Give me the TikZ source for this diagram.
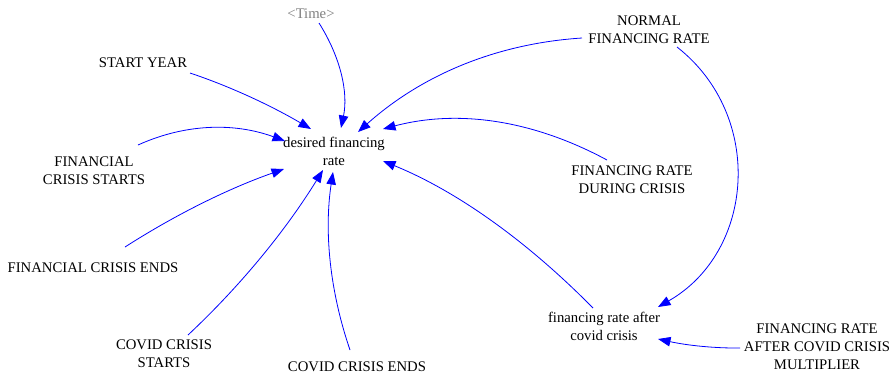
\documentclass[tikz,border=0pt]{standalone}
\usepackage{fontspec}
\setmainfont{Liberation Serif}
\usetikzlibrary{arrows.meta}
\begin{document}
\begin{tikzpicture}[x=1pt,y=-1pt,
  var/.style={align=center,inner sep=0pt,font=\fontsize{14.7}{18}\selectfont,text=black},
  shadow/.style={var,text={rgb,255:red,128;green,128;blue,128}},
  arr/.style={draw={rgb,255:red,0;green,0;blue,255},line width=0.8pt,
    -{Triangle[length=12.5pt,width=9.5pt]}}]
\useasboundingbox (0,0) rectangle (896,376);
\node[shadow] (time) at (311,14) {<Time>};
\node[var] (sy) at (143,63) {START YEAR};
\node[var] (fcs) at (94,171) {FINANCIAL\\CRISIS STARTS};
\node[var] (fce) at (93,268) {FINANCIAL CRISIS ENDS};
\node[var] (ccs) at (164,354) {COVID CRISIS\\STARTS};
\node[var] (cce) at (357,367) {COVID CRISIS ENDS};
\node[var] (dfr) at (334,151) {desired financing\\rate};
\node[var] (nfr) at (649,30) {NORMAL\\FINANCING RATE};
\node[var] (frdc) at (632,180) {FINANCING RATE\\DURING CRISIS};
\node[var] (frac) at (604,326) {financing rate after\\covid crisis};
\node[var] (mult) at (817,347) {FINANCING RATE\\AFTER COVID CRISIS\\MULTIPLIER};

\draw[arr] ([shift={(8,9)}]time.center) .. controls (341,58) and (348.3,93) .. ([shift={(7,-23)}]dfr.center);
\draw[arr] ([shift={(47,10)}]sy.center) .. controls (229.7,86.3) and (270,105) .. ([shift={(-23,-22)}]dfr.center);
\draw[arr] ([shift={(44,-26)}]fcs.center) .. controls (185,123.7) and (234,122.3) .. ([shift={(-49,-10)}]dfr.center);
\draw[arr] ([shift={(32,-21)}]fce.center) .. controls (176,214.3) and (229,188.3) .. ([shift={(-50,18)}]dfr.center);
\draw[arr] ([shift={(24,-19)}]ccs.center) .. controls (240.3,286) and (285.3,231) .. ([shift={(-11,19)}]dfr.center);
\draw[arr] ([shift={(-7,-17)}]cce.center) .. controls (329.7,290.7) and (324,231.3) .. ([shift={(-1,21)}]dfr.center);
\draw[arr] ([shift={(-67,8)}]nfr.center) .. controls (496.7,43.5) and (422,74.8) .. ([shift={(24,-19)}]dfr.center);
\draw[arr] ([shift={(-25,-20)}]frdc.center) .. controls (532.3,119.7) and (457.7,109.3) .. ([shift={(49,-22)}]dfr.center);
\draw[arr] ([shift={(-11,-18)}]frac.center) .. controls (525.7,239.7) and (455.7,190.7) .. ([shift={(49,10)}]dfr.center);
\draw[arr] ([shift={(28,17)}]nfr.center) .. controls (764.7,115.7) and (754.7,251.6) .. ([shift={(54,-19)}]frac.center);
\draw[arr] ([shift={(-77,1)}]mult.center) .. controls (714,348.3) and (686.7,345.3) .. ([shift={(54,13)}]frac.center);
\end{tikzpicture}
\end{document}
